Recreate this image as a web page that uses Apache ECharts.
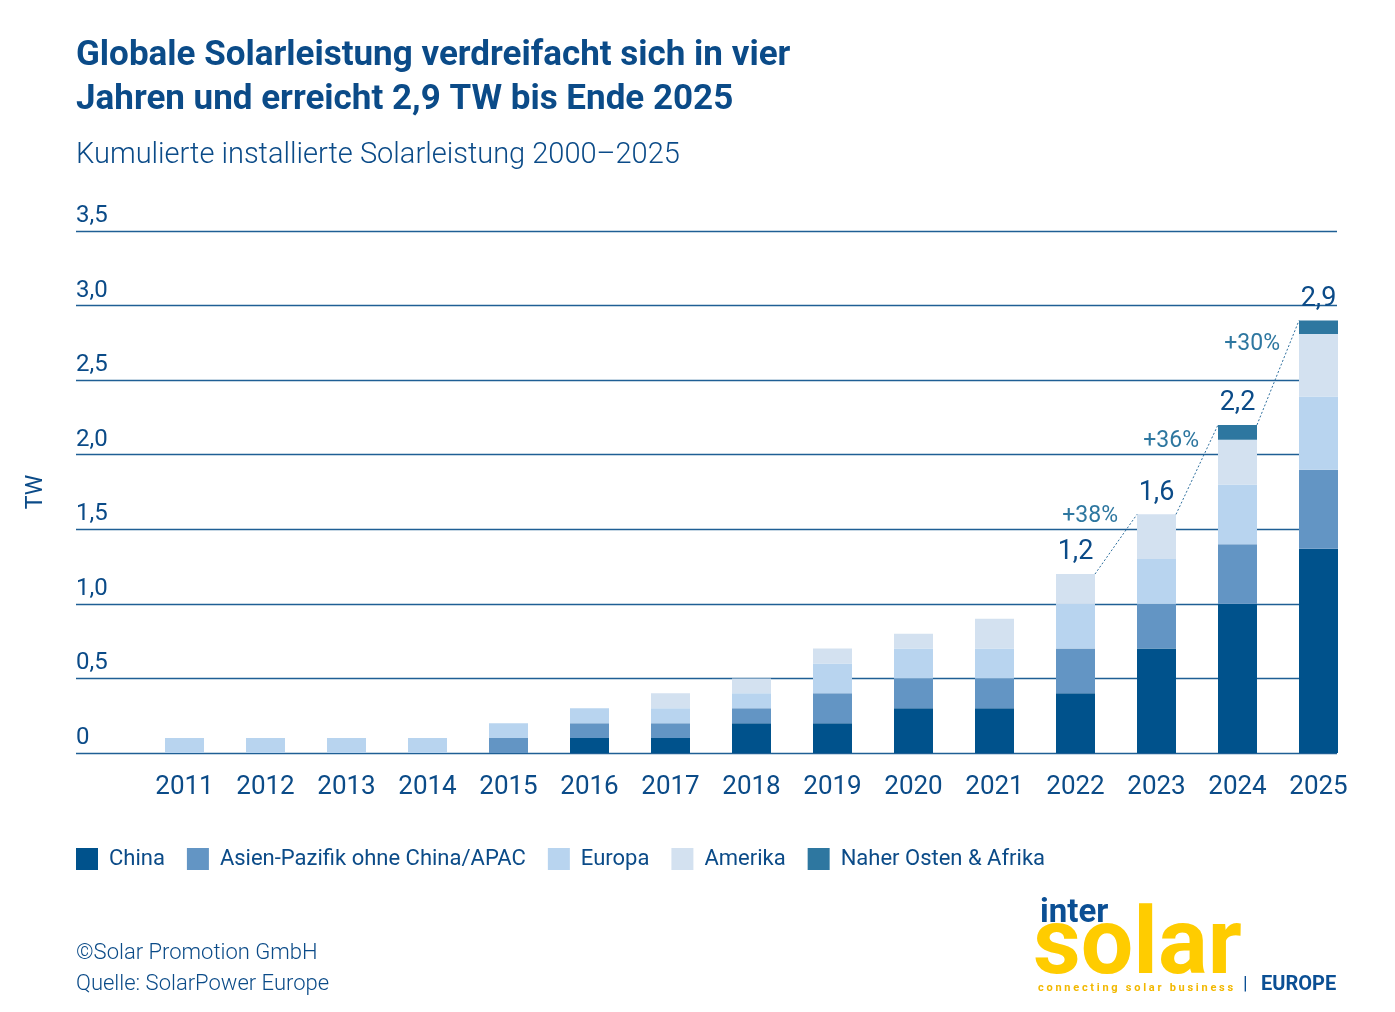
<!DOCTYPE html>
<html>
<head>
<meta charset="utf-8">
<script src="https://cdn.jsdelivr.net/npm/echarts@6/dist/echarts.min.js"></script>
<style>
  html, body { margin: 0; padding: 0; background: #fff; }
  #chart { width: 1395px; height: 1012px; }
</style>
</head>
<body>
<div id="chart"></div>
<script>
// Kategorien und Werte (TW)
var years = ['2011','2012','2013','2014','2015','2016','2017','2018','2019','2020','2021','2022','2023','2024','2025'];
var china   = [0,   0,   0,   0,   0,   0.1, 0.1, 0.2, 0.2, 0.3, 0.3, 0.4, 0.7, 1.0, 1.37];
var apac    = [0,   0,   0,   0,   0.1, 0.1, 0.1, 0.1, 0.2, 0.2, 0.2, 0.3, 0.3, 0.4, 0.53];
var europa  = [0.1, 0.1, 0.1, 0.1, 0.1, 0.1, 0.1, 0.1, 0.2, 0.2, 0.2, 0.3, 0.3, 0.4, 0.49];
var amerika = [0,   0,   0,   0,   0,   0,   0.1, 0.1, 0.1, 0.1, 0.2, 0.2, 0.3, 0.3, 0.42];
var mea     = [0,   0,   0,   0,   0,   0,   0,   0,   0,   0,   0,   0,   0,   0.1, 0.09];
var seriesNames = ['China','Asien-Pazifik ohne China/APAC','Europa','Amerika','Naher Osten & Afrika'];
var seriesColors = ['#00528c','#6395c4','#b8d4ef','#d3e1f0','#2e77a0'];
var yTicks = [0, 0.5, 1.0, 1.5, 2.0, 2.5, 3.0, 3.5];
var labelYears = ['2022','2023','2024','2025'];
var growthLabels = ['+38%','+36%','+30%'];

var dark = '#0b4b88';
var font = 'Roboto';
var BAR_W = 39;

function total(i){
    return china[i]+apac[i]+europa[i]+amerika[i]+mea[i];
}
function fmt(v){
    if(v===0) return '0';
    return v.toFixed(1).replace('.', ',');
}

// Summenbeschriftung und Verbindungslinien
var totalData = [];
for(var k=0;k<labelYears.length;k++){
    var idx = years.indexOf(labelYears[k]);
    totalData.push([idx, total(idx)]);
}
var connData = [];
for(var k=0;k<labelYears.length-1;k++){
    var a = years.indexOf(labelYears[k]);
    var b = years.indexOf(labelYears[k+1]);
    connData.push([a, total(a), b, total(b), growthLabels[k]]);
}

var series = [];
var vals = [china, apac, europa, amerika, mea];
for(var s=0;s<vals.length;s++){
    series.push({
        name: seriesNames[s],
        type: 'bar',
        stack: 'total',
        xAxisIndex: 1,
        yAxisIndex: 1,
        barWidth: BAR_W,
        itemStyle: {color: seriesColors[s]},
        data: vals[s]
    });
}
series.push({
    type: 'custom',
    xAxisIndex: 1,
    yAxisIndex: 1,
    data: totalData,
    z: 5,
    renderItem: function(params, api){
        var p = api.coord([api.value(0), api.value(1)]);
        return {
            type: 'text',
            style: {
                x: p[0], y: p[1] - 8,
                text: fmt(api.value(1)),
                fill: dark,
                font: '400 27px ' + font,
                textAlign: 'center',
                textVerticalAlign: 'bottom'
            }
        };
    }
});
series.push({
    type: 'custom',
    xAxisIndex: 1,
    yAxisIndex: 1,
    data: connData,
    z: 5,
    renderItem: function(params, api){
        var p1 = api.coord([api.value(0), api.value(1)]);
        var p2 = api.coord([api.value(2), api.value(3)]);
        var x1 = p1[0] + BAR_W/2, x2 = p2[0] - BAR_W/2;
        var mx = (x1+x2)/2, my = (p1[1]+p2[1])/2;
        return {
            type: 'group',
            children: [{
                type: 'line',
                shape: {x1: x1, y1: p1[1], x2: x2, y2: p2[1]},
                style: {stroke: '#2e6f9e', lineWidth: 1, lineDash: [2, 2]}
            }, {
                type: 'text',
                style: {
                    x: mx + 2, y: my - 28,
                    text: connData[params.dataIndex][4],
                    fill: '#2e77a0',
                    font: '400 23px ' + font,
                    textAlign: 'right',
                    textVerticalAlign: 'middle'
                }
            }]
        };
    }
});

var chart = echarts.init(document.getElementById('chart'));
chart.setOption({
    backgroundColor: '#fff',
    animation: false,
    color: seriesColors,
    title: [{
        text: 'Globale Solarleistung verdreifacht sich in vier\nJahren und erreicht 2,9 TW bis Ende 2025',
        left: 71, top: 29,
        textStyle: {color: dark, fontFamily: font, fontSize: 35, fontWeight: 'bold', lineHeight: 44}
    }, {
        text: 'Kumulierte installierte Solarleistung 2000–2025',
        left: 71, top: 136,
        textStyle: {color: dark, fontFamily: font, fontSize: 29, fontWeight: 300}
    }],
    legend: {
        left: 76, top: 848, padding: 0,
        itemWidth: 22, itemHeight: 22, itemGap: 22,
        icon: 'rect',
        textStyle: {color: dark, fontFamily: font, fontSize: 22, padding: [0,0,0,6]},
        data: seriesNames
    },
    grid: [
        {left: 76, right: 58, top: 231, bottom: 259},
        {left: 144, right: 36, top: 231, bottom: 259}
    ],
    xAxis: [{
        gridIndex: 0, type: 'category', data: years,
        show: false
    }, {
        gridIndex: 1, type: 'category', data: years,
        axisLine: {show: false}, axisTick: {show: false},
        axisLabel: {color: dark, fontFamily: font, fontSize: 26, margin: 21}
    }],
    yAxis: [{
        gridIndex: 0, type: 'value', min: 0, max: 3.5, interval: 0.5,
        name: 'TW', nameLocation: 'middle', nameGap: 28, nameRotate: 90,
        nameTextStyle: {color: dark, fontFamily: font, fontSize: 23},
        axisLine: {show: false}, axisTick: {show: false},
        splitLine: {lineStyle: {color: '#1f5f95', width: 1.3}},
        axisLabel: {
            inside: true, margin: 0, align: 'left', verticalAlign: 'bottom',
            padding: [0,0,3,0],
            color: dark, fontFamily: font, fontSize: 24,
            formatter: function(v){ return fmt(v); }
        }
    }, {
        gridIndex: 1, type: 'value', min: 0, max: 3.5, interval: 0.5,
        show: false, splitLine: {show: false}
    }],
    series: series,
    graphic: [
        {type: 'text', left: 76, top: 942, style: {text: '©Solar Promotion GmbH', fill: dark, font: '300 22px ' + font}},
        {type: 'text', left: 76, top: 973, style: {text: 'Quelle: SolarPower Europe', fill: dark, font: '300 22px ' + font}},
        {type: 'text', left: 1040, top: 897, style: {text: 'inter', fill: '#0b4f94', font: 'bold 33px ' + font}},
        {type: 'text', left: 1033, top: 903, style: {text: 'solar', fill: '#ffcc00', font: 'bold 93px ' + font}},
        {type: 'text', left: 1038, top: 983, style: {text: 'c o n n e c t i n g   s o l a r   b u s i n e s s', fill: '#f2b800', font: 'bold 11px ' + font}},
        {type: 'text', left: 1243, top: 975, style: {text: '|', fill: '#0b4f94', font: '19px ' + font}},
        {type: 'text', left: 1261, top: 975, style: {text: 'EUROPE', fill: '#0b4f94', font: 'bold 20px ' + font}}
    ]
});
</script>
</body>
</html>
